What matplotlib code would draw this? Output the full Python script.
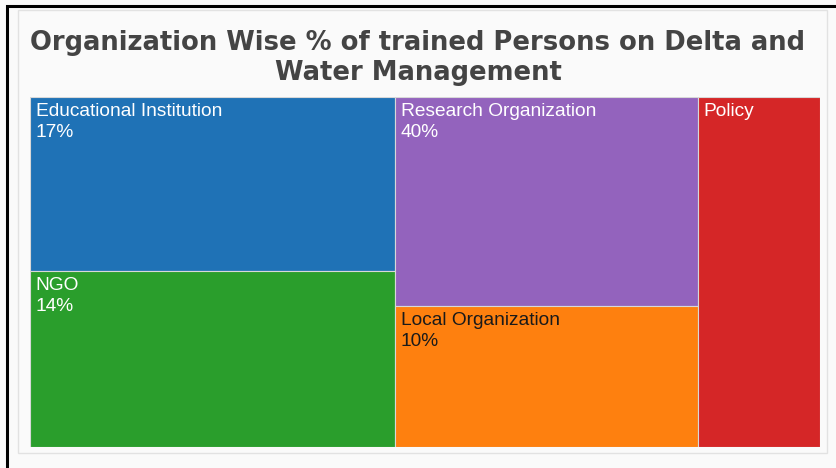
import matplotlib
matplotlib.use('Agg')
import matplotlib.pyplot as plt
from matplotlib.patches import Rectangle

# treemap data (box sizes, labels as printed)
names = ['Educational Institution', 'NGO', 'Research Organization', 'Local Organization', 'Policy']
sizes = [23.0, 23.2, 22.9, 15.5, 15.4]
pct_labels = ['17%', '14%', '40%', '10%', '']
column = [0, 0, 1, 1, 2]
colors = ['#1f72b6', '#2a9e2c', '#9363bd', '#fe800f', '#d52627']
text_colors = ['white', 'white', 'white', '#1a1a1a', 'white']

title = 'Organization Wise % of trained Persons on Delta and\nWater Management'

W, H = 836, 468
fig = plt.figure(figsize=(W / 100, H / 100), dpi=100)
fig.patch.set_facecolor('#fafafa')

# outer black frame (cut off at right and bottom) and light inner frame
fig.add_artist(Rectangle((7 / W, -0.1), 1.0, (H - 6) / H + 0.1, transform=fig.transFigure,
                         fill=False, edgecolor='black', lw=2.2))
fig.add_artist(Rectangle((18 / W, (H - 453) / H), 809 / W, 443 / H, transform=fig.transFigure,
                         fill=False, edgecolor='#e2e2e2', lw=1))

fig.text(0.5, (H - 58) / H, title, ha='center', va='center', fontsize=18.6,
         fontweight='bold', color='#444444', family='DejaVu Sans', linespacing=1.25)

ax = fig.add_axes([30 / W, (H - 447) / H, 790 / W, 350 / H])
ax.set_xlim(0, 1)
ax.set_ylim(1, 0)
ax.axis('off')

# slice-and-dice layout: columns by total size, rows within each column
total = sum(sizes)
ncols = max(column) + 1
x0 = 0.0
for c in range(ncols):
    idx = [i for i in range(len(names)) if column[i] == c]
    col_sum = sum(sizes[i] for i in idx)
    w = col_sum / total
    y0 = 0.0
    for i in idx:
        h = sizes[i] / col_sum
        ax.add_patch(Rectangle((x0, y0), w, h, facecolor=colors[i], edgecolor='#d8d8d8', lw=0.8))
        label = names[i] if not pct_labels[i] else names[i] + '\n' + pct_labels[i]
        ax.text(x0 + 0.007, y0 + 0.017, label, ha='left', va='top', fontsize=13.8,
                color=text_colors[i], family='Liberation Sans', linespacing=1.3)
        y0 += h
    x0 += w

fig.savefig('out.png', dpi=100, facecolor=fig.get_facecolor())
